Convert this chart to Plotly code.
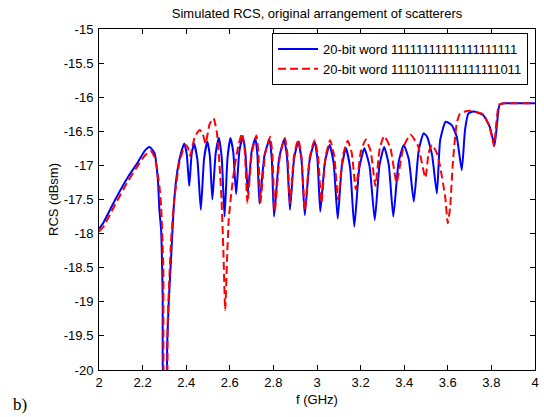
import plotly.graph_objects as go

# ---- data ----
blue_f = [2.000, 2.020, 2.073, 2.133, 2.179, 2.209, 2.232, 2.255, 2.270, 2.277, 2.285, 2.292, 2.298,
          2.306, 2.313, 2.320, 2.330, 2.345, 2.360, 2.376,
          2.391, 2.4025, 2.414, 2.425, 2.436, 2.4515, 2.467, 2.482, 2.497, 2.5085, 2.520, 2.535,
          2.550, 2.563, 2.576, 2.5895, 2.603, 2.616, 2.629, 2.644, 2.659, 2.671, 2.683, 2.700,
          2.717, 2.7265, 2.736, 2.759, 2.782, 2.7925, 2.803, 2.826, 2.849, 2.8625, 2.876, 2.895,
          2.914, 2.929, 2.944, 2.9665, 2.989, 3.002, 3.015, 3.0365, 3.058, 3.0765, 3.095, 3.114,
          3.133, 3.152, 3.171, 3.194, 3.217, 3.241, 3.265, 3.2865, 3.308, 3.329, 3.350, 3.374,
          3.398, 3.421, 3.444, 3.4665, 3.489, 3.505, 3.528, 3.550, 3.565,
          3.590, 3.618, 3.641, 3.664, 3.679, 3.694, 3.717, 3.762, 3.792, 3.808, 3.815, 3.826,
          3.838, 3.860, 4.000]
blue_rcs = [-17.93, -17.84, -17.51, -17.17, -16.95, -16.79, -16.73, -16.82, -17.21, -17.65, -17.95, -18.90, -20.50,
            -20.50, -19.60, -19.00, -18.40, -17.51, -17.07, -16.82,
            -16.68, -16.835, -17.30, -16.835, -16.68, -16.92, -17.65, -16.90, -16.65, -16.86, -17.50, -16.83,
            -16.60, -16.89, -17.75, -16.89, -16.60, -16.81, -17.42, -16.79, -16.58, -16.79, -17.40, -16.80,
            -16.60, -16.84, -17.56, -16.855, -16.62, -16.90, -17.75, -16.90, -16.62, -16.88, -17.65, -16.90,
            -16.65, -16.92, -17.73, -16.92, -16.65, -16.91, -17.68, -16.945, -16.70, -16.97, -17.78, -17.01,
            -16.75, -17.04, -17.90, -17.04, -16.75, -17.01, -17.80, -17.00, -16.73, -16.985, -17.75, -16.96,
            -16.70, -16.91, -17.53, -16.78, -16.53, -16.58, -16.85, -17.41, -16.63,
            -16.36, -16.41, -16.58, -17.07, -16.48, -16.24, -16.21, -16.26, -16.43, -16.63, -16.70, -16.38,
            -16.11, -16.09, -16.09]

red_f = [2.000, 2.020, 2.073, 2.133, 2.179, 2.209, 2.236, 2.252, 2.262, 2.277, 2.285, 2.295, 2.302,
         2.309, 2.315, 2.330, 2.345, 2.368, 2.385,
         2.398, 2.408, 2.418, 2.440, 2.462, 2.4755, 2.489, 2.507, 2.525,
         2.540, 2.552, 2.562, 2.570, 2.579, 2.587, 2.595, 2.607, 2.622, 2.640,
         2.656, 2.6685, 2.681, 2.7015, 2.722, 2.731, 2.740, 2.7625, 2.785, 2.7955, 2.806, 2.8295,
         2.853, 2.8645, 2.876, 2.895, 2.914, 2.929, 2.944, 2.9665, 2.989, 3.0045, 3.020, 3.040,
         3.060, 3.0785, 3.097, 3.119, 3.141, 3.1595, 3.178, 3.201, 3.224, 3.246, 3.268, 3.288,
         3.308, 3.3365, 3.365, 3.397, 3.429, 3.463, 3.497, 3.512, 3.527,
         3.550, 3.565, 3.588, 3.600, 3.611, 3.623, 3.641, 3.656, 3.679, 3.700, 3.762, 3.790,
         3.805, 3.812, 3.822, 3.835, 3.860, 4.000]
red_rcs = [-17.97, -17.90, -17.58, -17.23, -17.00, -16.86, -16.79, -16.86, -16.98, -17.30, -17.60, -18.50, -20.50,
           -20.50, -19.30, -18.14, -17.51, -16.97, -16.78,
           -16.70, -16.74, -16.86, -16.575, -16.48, -16.535, -16.68, -16.40, -16.31,
           -16.50, -16.95, -17.50, -18.20, -19.12, -18.40, -17.80, -17.40, -17.02, -16.70,
           -16.53, -16.785, -17.55, -16.81, -16.56, -16.81, -17.55, -16.82, -16.58, -16.855, -17.68, -16.87,
           -16.60, -16.84, -17.55, -16.85, -16.62, -16.88, -17.65, -16.885, -16.63, -16.86, -17.55, -16.86,
           -16.63, -16.85, -17.50, -16.855, -16.64, -16.82, -17.35, -16.80, -16.62, -16.79, -17.30, -16.75,
           -16.57, -16.74, -17.25, -16.725, -16.55, -16.71, -17.18, -16.82, -16.70,
           -16.82, -17.02, -17.46, -17.85, -17.60, -16.97, -16.38, -16.24, -16.21, -16.20, -16.25, -16.42,
           -16.62, -16.72, -16.40, -16.11, -16.09, -16.09]

blue_name = "20-bit word 11111111111111111111"
red_name = "20-bit word 11110111111111111011"

x_tick_vals = [2, 2.2, 2.4, 2.6, 2.8, 3, 3.2, 3.4, 3.6, 3.8, 4]
x_tick_text = ["2", "2.2", "2.4", "2.6", "2.8", "3", "3.2", "3.4", "3.6", "3.8", "4"]
y_tick_vals = [-15, -15.5, -16, -16.5, -17, -17.5, -18, -18.5, -19, -19.5, -20]
y_tick_text = ["-15", "-15.5", "-16", "-16.5", "-17", "-17.5", "-18", "-18.5", "-19", "-19.5", "-20"]

FONT = "Liberation Sans, Arial, sans-serif"
FS = 13

fig = go.Figure()
fig.add_trace(go.Scatter(x=blue_f, y=blue_rcs, mode="lines", name=blue_name,
                         line=dict(color="#0000ff", width=2, shape="spline", smoothing=0.5)))
fig.add_trace(go.Scatter(x=red_f, y=red_rcs, mode="lines", name=red_name,
                         line=dict(color="#ff0000", width=2, dash="8px,4px", shape="spline", smoothing=0.5)))

axis_common = dict(showgrid=False, zeroline=False, showline=True, linecolor="black", linewidth=1,
                   mirror="ticks", ticks="inside", ticklen=5, tickcolor="black", tickwidth=1,
                   tickfont=dict(family=FONT, size=FS, color="black"))

fig.update_layout(
    width=544, height=417,
    margin=dict(l=99, r=5, t=29, b=47),
    paper_bgcolor="white", plot_bgcolor="white",
    title=dict(text="Simulated RCS, original arrangement of scatterers",
               font=dict(family=FONT, size=FS, color="black"),
               x=0.5, xref="paper", xanchor="center", y=1 - 13 / 417, yanchor="middle"),
    xaxis=dict(range=[2, 4], tickvals=x_tick_vals, ticktext=x_tick_text,
               title=dict(text="f (GHz)", font=dict(family=FONT, size=FS, color="black"), standoff=6),
               **axis_common),
    yaxis=dict(range=[-20, -15], tickvals=y_tick_vals, ticktext=y_tick_text, ticklabelstandoff=2,
               title=dict(text="RCS (dBsm)", font=dict(family=FONT, size=FS, color="black"), standoff=2),
               **axis_common),
    legend=dict(x=(532 - 99) / 440, xanchor="right", y=1 - 4 / 341, yanchor="top",
                bgcolor="white", bordercolor="black", borderwidth=1, itemwidth=40,
                font=dict(family=FONT, size=FS, color="black"), tracegroupgap=0),
    showlegend=True,
    annotations=[dict(text="b)", xref="paper", yref="paper", x=-99 / 440 + 10 / 440, y=-(405 - 370) / 341,
                      xanchor="left", yanchor="middle", showarrow=False,
                      font=dict(family="Liberation Serif, Times New Roman, serif", size=17, color="black"))],
)

fig.write_html("out.html", post_script="document.body.style.margin='0';",
               config={"displayModeBar": False})
